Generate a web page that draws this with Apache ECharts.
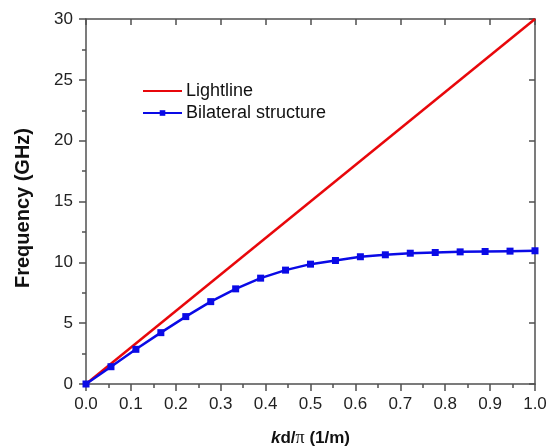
<!DOCTYPE html>
<html><head><meta charset="utf-8">
<script src="https://cdn.jsdelivr.net/npm/echarts@6/dist/echarts.min.js"></script>
<style>html,body{margin:0;padding:0;background:#fff}#c{width:548px;height:448px}</style>
</head><body><div id="c"></div>
<script>
const kd = [0, 0.0556, 0.1111, 0.1667, 0.2222, 0.2778, 0.3333, 0.3889, 0.4444, 0.5, 0.5556, 0.6111, 0.6667, 0.7222, 0.7778, 0.8333, 0.8889, 0.9444, 1.0];
const bilateral = [0, 1.42, 2.85, 4.22, 5.54, 6.77, 7.82, 8.70, 9.36, 9.85, 10.15, 10.46, 10.62, 10.75, 10.81, 10.86, 10.89, 10.92, 10.95];
const lightX = [0, 1];
const lightY = [0, 30];
const xTicks = [0.0, 0.1, 0.2, 0.3, 0.4, 0.5, 0.6, 0.7, 0.8, 0.9, 1.0];
const yTicks = [0, 5, 10, 15, 20, 25, 30];

const axisCol = '#505050';
const font = 'Liberation Sans, Arial, sans-serif';
const chart = echarts.init(document.getElementById('c'), null, {renderer: 'canvas'});
chart.setOption({
  animation: false,
  backgroundColor: '#fff',
  grid: {left: 86, right: 13, top: 19, bottom: 64, containLabel: false, outerBoundsMode: 'none'},
  legend: {
    orient: 'vertical', left: 137, top: 77, itemGap: 4,
    itemWidth: 39, itemHeight: 7,
    textStyle: {fontFamily: font, fontSize: 18, color: '#111', padding: [0,0,0,-1]},
    data: [{name: 'Lightline', itemStyle: {color: 'rgba(0,0,0,0)', borderWidth: 0}}, 'Bilateral structure']
  },
  xAxis: [{
    type: 'value', min: 0, max: 1, interval: 0.1, position: 'bottom',
    name: '{i|k}{b|d/}{p|π}{b| (1/m)}', nameLocation: 'middle', nameGap: 45,
    nameTextStyle: {rich: {
      i: {fontFamily: font, fontSize: 17, fontWeight: 'bold', fontStyle: 'italic', color: '#111'},
      b: {fontFamily: font, fontSize: 17, fontWeight: 'bold', color: '#111'},
      p: {fontFamily: 'Liberation Serif, Times New Roman, serif', fontSize: 18, color: '#111'}
    }},
    axisLine: {show: true, onZero: false, lineStyle: {color: axisCol, width: 1.5}},
    axisTick: {show: true, inside: false, length: 7, lineStyle: {color: axisCol, width: 1.5}},
    minorTick: {show: true, splitNumber: 2, length: 4, lineStyle: {color: axisCol, width: 1.5}},
    axisLabel: {fontFamily: font, fontSize: 17, color: '#222', margin: 12,
      formatter: v => v.toFixed(1)},
    splitLine: {show: false}
  }, {
    type: 'value', min: 0, max: 1, interval: 0.1, position: 'top',
    axisLine: {show: true, onZero: false, lineStyle: {color: axisCol, width: 1.5}},
    axisTick: {show: true, inside: true, length: 6, lineStyle: {color: axisCol, width: 1.5}},
    minorTick: {show: false},
    axisLabel: {show: false}, splitLine: {show: false}
  }],
  yAxis: [{
    type: 'value', min: 0, max: 30, interval: 5, position: 'left',
    name: 'Frequency (GHz)', nameLocation: 'middle', nameGap: 53,
    nameTextStyle: {fontFamily: font, fontSize: 20, fontWeight: 'bold', color: '#111', padding: [0, 13, 0, 0]},
    axisLine: {show: true, onZero: false, lineStyle: {color: axisCol, width: 1.5}},
    axisTick: {show: true, inside: false, length: 7, lineStyle: {color: axisCol, width: 1.5}},
    minorTick: {show: true, splitNumber: 2, length: 4, lineStyle: {color: axisCol, width: 1.5}},
    axisLabel: {fontFamily: font, fontSize: 17, color: '#222', margin: 13},
    splitLine: {show: false}
  }, {
    type: 'value', min: 0, max: 30, interval: 5, position: 'right',
    axisLine: {show: true, onZero: false, lineStyle: {color: axisCol, width: 1.5}},
    axisTick: {show: true, inside: true, length: 6, lineStyle: {color: axisCol, width: 1.5}},
    minorTick: {show: false},
    axisLabel: {show: false}, splitLine: {show: false}
  }],
  series: [{
    name: 'Lightline', type: 'line', xAxisIndex: 0, yAxisIndex: 0,
    data: lightX.map((x, i) => [x, lightY[i]]),
    showSymbol: false, symbol: 'none',
    lineStyle: {color: '#e8070b', width: 2.5}, itemStyle: {color: '#e8070b'}
  }, {
    name: 'Bilateral structure', type: 'line', xAxisIndex: 0, yAxisIndex: 0,
    data: kd.map((x, i) => [x, bilateral[i]]),
    symbol: 'rect', symbolSize: 7, showSymbol: true,
    lineStyle: {color: '#0a0ae6', width: 2.5}, itemStyle: {color: '#0a0ae6'}
  }]
});
</script></body></html>
